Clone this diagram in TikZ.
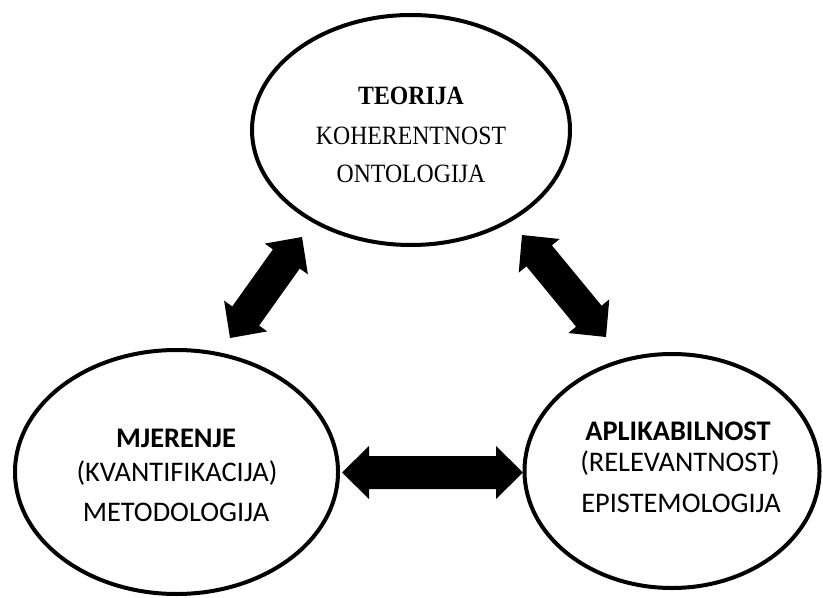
\documentclass[tikz,border=0pt]{standalone}
\usepackage{fontspec}
\usetikzlibrary{shapes.geometric,calc}
\newfontfamily\serfont[FakeStretch=0.9]{Liberation Serif}
\newfontfamily\calfont{Carlito}
\newcommand\dblarrow[2]{%
  \fill (#1) -- ($(#1)!27bp!(#2)!26.5bp!90:(#2)$) -- ($(#1)!27bp!(#2)!16.5bp!90:(#2)$)
    -- ($(#2)!27bp!(#1)!16.5bp!-90:(#1)$) -- ($(#2)!27bp!(#1)!26.5bp!-90:(#1)$)
    -- (#2) -- ($(#2)!27bp!(#1)!26.5bp!90:(#1)$) -- ($(#2)!27bp!(#1)!16.5bp!90:(#1)$)
    -- ($(#1)!27bp!(#2)!16.5bp!-90:(#2)$) -- ($(#1)!27bp!(#2)!26.5bp!-90:(#2)$) -- cycle;}
\tikzset{
  ell/.style={ellipse, draw, line width=4bp, inner sep=0pt, outer sep=0pt},
  sertxt/.style={anchor=base, inner sep=0pt, font=\serfont\fontsize{26.5}{30}\selectfont},
  caltxt/.style={anchor=base, inner sep=0pt, font=\calfont\fontsize{28.5}{32}\selectfont},
}
\begin{document}
\begin{tikzpicture}[x=1bp,y=-1bp]
\useasboundingbox (0,0) rectangle (823,598);
% ellipses
\node[ell, minimum width=318bp, minimum height=230bp] (teo) at (411,130) {};
\node[ell, minimum width=323bp, minimum height=244bp] (mje) at (176.5,472) {};
\node[ell, minimum width=295bp, minimum height=234bp] (apl) at (672,471) {};
% texts
\node[sertxt] (t1) at (411,105) {\bfseries TEORIJA};
\node[sertxt] (t2) at (411,145) {KOHERENTNOST};
\node[sertxt] (t3) at (411,183) {ONTOLOGIJA};
\node[caltxt] (m1) at (176,447) {\bfseries MJERENJE};
\node[caltxt] (m2) at (177,481) {(KVANTIFIKACIJA)};
\node[caltxt] (m3) at (176,521.5) {METODOLOGIJA};
\node[caltxt] (a1) at (678,440.5) {\bfseries APLIKABILNOST};
\node[caltxt] (a2) at (680,471.5) {(RELEVANTNOST)};
\node[caltxt] (a3) at (681,512.5) {EPISTEMOLOGIJA};
% arrow end points
\coordinate (lt1) at (230,338);
\coordinate (lt2) at (302,237);
\coordinate (rt1) at (522,235);
\coordinate (rt2) at (606,337);
\coordinate (h1) at (342,472.5);
\coordinate (h2) at (523,472.5);
\dblarrow{lt1}{lt2}
\dblarrow{rt1}{rt2}
\dblarrow{h1}{h2}
\end{tikzpicture}
\end{document}
